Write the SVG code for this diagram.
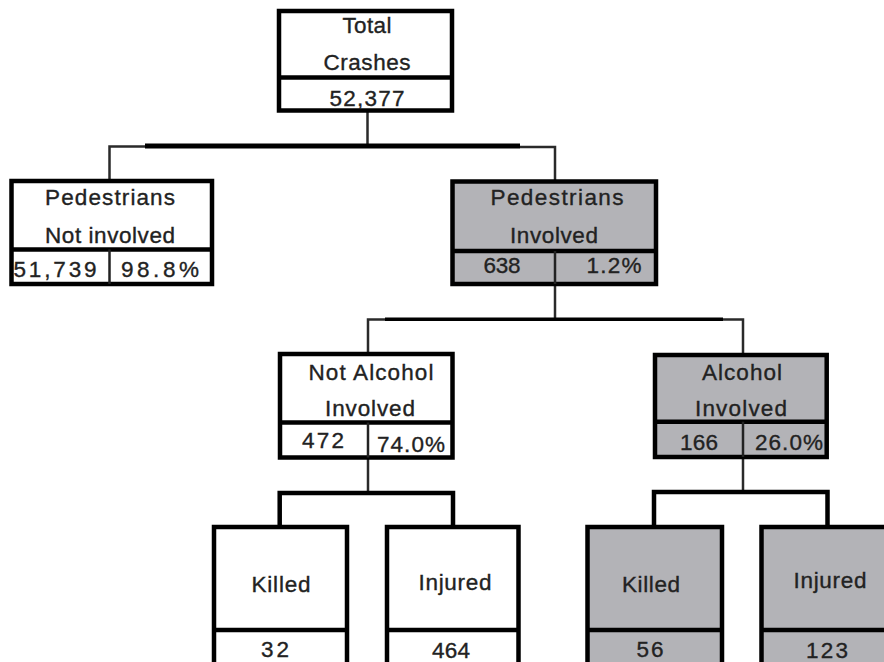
<svg xmlns="http://www.w3.org/2000/svg" width="884" height="662" viewBox="0 0 884 662">
<style>
.box{fill:#fff;stroke:#000;stroke-width:4.5}
.g{fill:#b3b3b7}
.sep{stroke:#000;stroke-width:4.5}
.div{stroke:#222;stroke-width:2.5}
.thin{fill:none;stroke:#2a2a2a;stroke-width:2.5}
.thick{fill:none;stroke:#000;stroke-width:5}
.brk{fill:none;stroke:#000;stroke-width:4.5}
text{font-family:"Liberation Sans",Arial,sans-serif;font-size:22.5px;fill:#222;stroke:#222;stroke-width:0.35;text-anchor:middle}
</style>
<rect width="884" height="662" fill="#fff"/>
<g id="connectors">
<line class="thin" x1="367.5" y1="110" x2="367.5" y2="146"/>
<line class="thick" x1="145" y1="146" x2="520" y2="146"/>
<path class="thin" d="M109.5,181 V146.5 H145"/>
<path class="thin" d="M520,147 H555 V181"/>
<line class="thin" x1="555" y1="284" x2="555" y2="319"/>
<line class="thick" x1="385" y1="319.3" x2="723" y2="319.3" style="stroke-width:3.5"/>
<path class="thin" d="M368,354 V319.5 H385"/>
<path class="thin" d="M723,319.5 H743 V355"/>
<line class="thin" x1="368" y1="457.5" x2="368" y2="493"/>
<path class="brk" d="M279.7,527 V493 H453 V527"/>
<line class="thin" x1="743" y1="457" x2="743" y2="492"/>
<path class="brk" d="M654,527 V492 H827.5 V527"/>
</g>
<g id="total">
<rect class="box" x="279" y="11" width="173" height="99.5"/>
<line class="sep" x1="279" y1="77.5" x2="452" y2="77.5"/>
<text x="367" y="33" textLength="49" lengthAdjust="spacing">Total</text>
<text x="367" y="70" textLength="87" lengthAdjust="spacing">Crashes</text>
<text x="367" y="106" textLength="75" lengthAdjust="spacing">52,377</text>
</g>
<g id="ped-not">
<rect class="box" x="11.5" y="181" width="200.5" height="103"/>
<line class="sep" x1="11.5" y1="249.5" x2="212" y2="249.5"/>
<line class="div" x1="109.5" y1="249.5" x2="109.5" y2="284"/>
<text x="110" y="205" textLength="130" lengthAdjust="spacing">Pedestrians</text>
<text x="110" y="243" textLength="130" lengthAdjust="spacing">Not involved</text>
<text x="55" y="277" textLength="83" lengthAdjust="spacing">51,739</text>
<text x="160" y="277" textLength="78" lengthAdjust="spacing">98.8%</text>
</g>
<g id="ped-inv">
<rect class="box g" x="452.5" y="181.5" width="203.5" height="102.5"/>
<line class="sep" x1="452.5" y1="251" x2="656" y2="251"/>
<line class="div" x1="555" y1="251" x2="555" y2="284"/>
<text x="557" y="205" textLength="133" lengthAdjust="spacing">Pedestrians</text>
<text x="554" y="243" textLength="88" lengthAdjust="spacing">Involved</text>
<text x="502" y="273" textLength="37" lengthAdjust="spacing">638</text>
<text x="614" y="273" textLength="55" lengthAdjust="spacing">1.2%</text>
</g>
<g id="not-alc">
<rect class="box" x="280" y="354" width="172.5" height="103.5"/>
<line class="sep" x1="280" y1="422.5" x2="452.5" y2="422.5"/>
<line class="div" x1="368" y1="422.5" x2="368" y2="457.5"/>
<text x="371" y="380" textLength="125" lengthAdjust="spacing">Not Alcohol</text>
<text x="370" y="416" textLength="90" lengthAdjust="spacing">Involved</text>
<text x="323" y="448" textLength="42" lengthAdjust="spacing">472</text>
<text x="411" y="452" textLength="68" lengthAdjust="spacing">74.0%</text>
</g>
<g id="alc">
<rect class="box g" x="655" y="355" width="171.7" height="102"/>
<line class="sep" x1="655" y1="421.7" x2="826.7" y2="421.7"/>
<line class="div" x1="743" y1="421.7" x2="743" y2="457"/>
<text x="742" y="380" textLength="80" lengthAdjust="spacing">Alcohol</text>
<text x="741" y="416" textLength="92" lengthAdjust="spacing">Involved</text>
<text x="699" y="450" textLength="38" lengthAdjust="spacing">166</text>
<text x="789" y="450" textLength="68" lengthAdjust="spacing">26.0%</text>
</g>
<g id="killed-1">
<rect class="box" x="214" y="527" width="133" height="150"/>
<line class="sep" x1="214" y1="630" x2="347" y2="630"/>
<text x="281" y="592" textLength="59" lengthAdjust="spacing">Killed</text>
<text x="275" y="657" textLength="28" lengthAdjust="spacing">32</text>
</g>
<g id="injured-1">
<rect class="box" x="387" y="527" width="131.5" height="150"/>
<line class="sep" x1="387" y1="630" x2="518.5" y2="630"/>
<text x="455" y="590" textLength="73" lengthAdjust="spacing">Injured</text>
<text x="451" y="658" textLength="38" lengthAdjust="spacing">464</text>
</g>
<g id="killed-2">
<rect class="box g" x="587.5" y="527" width="134.5" height="150"/>
<line class="sep" x1="587.5" y1="630" x2="722" y2="630"/>
<text x="651" y="592" textLength="58" lengthAdjust="spacing">Killed</text>
<text x="650" y="657" textLength="27" lengthAdjust="spacing">56</text>
</g>
<g id="injured-2">
<rect class="box g" x="761.5" y="527" width="134" height="150"/>
<line class="sep" x1="761.5" y1="630" x2="895.5" y2="630"/>
<text x="830" y="588" textLength="73" lengthAdjust="spacing">Injured</text>
<text x="827" y="658" textLength="42" lengthAdjust="spacing">123</text>
</g>
</svg>
